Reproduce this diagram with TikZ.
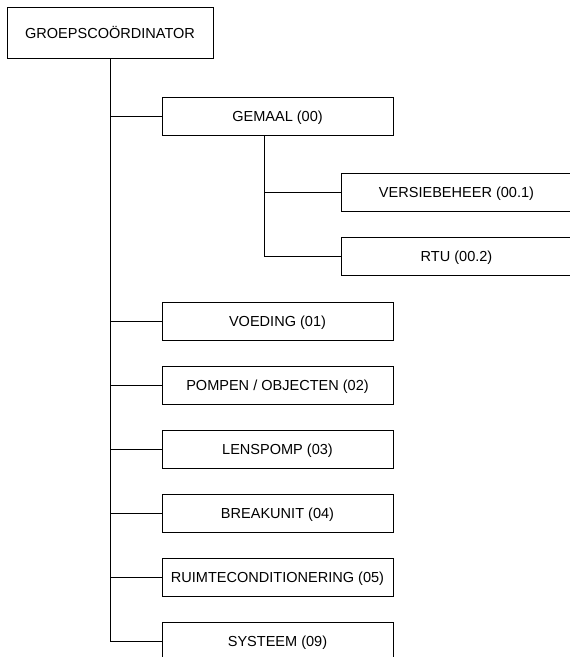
\documentclass[tikz,border=0pt]{standalone}
\usepackage{fontspec}
\setmainfont{Liberation Sans}
\usepackage{tikz}

\begin{document}
\begin{tikzpicture}[x=0.75pt,y=-0.75pt,line width=0.75pt,
    unit/.style={draw,rectangle,minimum width=173.25pt,minimum height=28.5pt,
      text depth=0pt,font=\fontsize{10.9}{13}\selectfont},
    top/.style={unit,minimum width=154.5pt,minimum height=38.25pt}]
          \useasboundingbox (0,0) rectangle (569,657);
          % Groepscoordinator
          \node[top] (coord) at (110,32.5) {GROEPSCO\"ORDINATOR};
          % Gemaal with its own units
          \node[unit] (gemaal) at (277.5,116) {GEMAAL (00)};
          \node[unit] (versie) at (456.5,192.5) {VERSIEBEHEER (00.1)};
          \node[unit] (rtu) at (456.5,256.5) {RTU (00.2)};
          \coordinate (gemaaltrunk) at (264,135);
          % other units
          \node[unit] (voeding) at (277.5,321) {VOEDING (01)};
          \node[unit] (pompen) at (277.5,385) {POMPEN / OBJECTEN (02)};
          \node[unit] (lenspomp) at (277.5,449) {LENSPOMP (03)};
          \node[unit] (breakunit) at (277.5,513) {BREAKUNIT (04)};
          \node[unit] (ruimte) at (277.5,577.5) {RUIMTECONDITIONERING (05)};
          \node[unit] (systeem) at (277.5,641) {SYSTEEM (09)};
          % lines from the coordinator
          \foreach \u in {gemaal,voeding,pompen,lenspomp,breakunit,ruimte,systeem}
            \draw (coord.south) |- (\u.west);
          % lines below gemaal
          \draw (gemaaltrunk) |- (versie.west);
          \draw (gemaaltrunk) |- (rtu.west);
        \end{tikzpicture}
\end{document}
